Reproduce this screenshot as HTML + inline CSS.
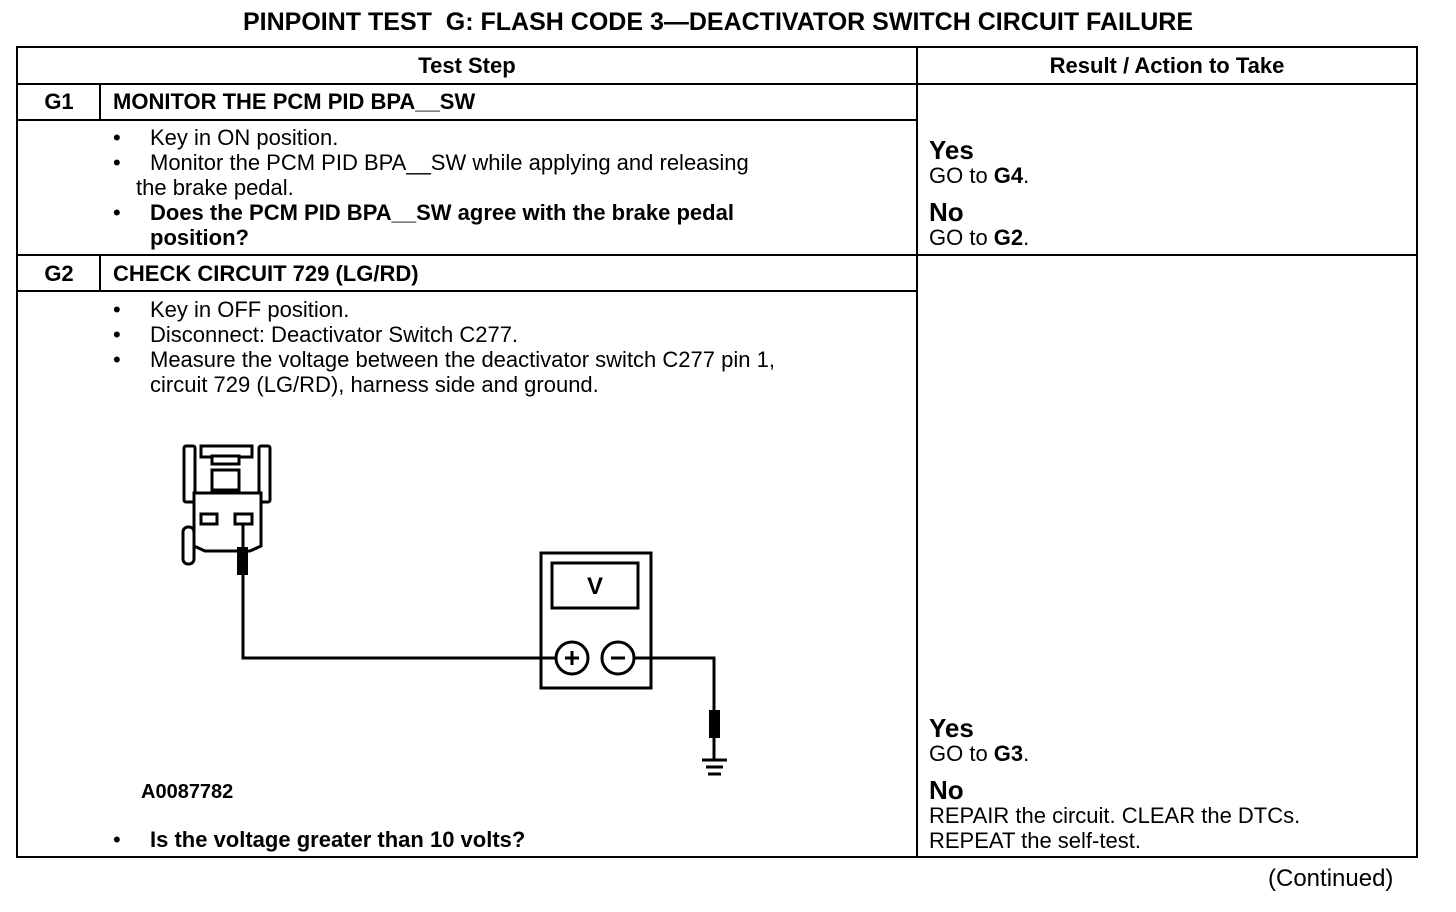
<!DOCTYPE html>
<html><head><meta charset="utf-8"><style>
html,body{margin:0;padding:0;background:#fff;}
body{width:1456px;height:912px;position:relative;overflow:hidden;font-family:"Liberation Sans",Arial,sans-serif;color:#000;}
.t{position:absolute;white-space:nowrap;font-size:22px;line-height:25px;}
.b{font-weight:bold;}
.l{position:absolute;background:#000;}
.yn{font-size:26px;font-weight:bold;line-height:26px;}
</style></head><body>
<div class="t b" style="left:0;width:1436px;text-align:center;top:8px;font-size:25px;line-height:28px;">PINPOINT TEST&nbsp; G: FLASH CODE 3—DEACTIVATOR SWITCH CIRCUIT FAILURE</div>

<!-- table lines -->
<div class="l" style="left:16px;top:46px;width:1402px;height:2px"></div>
<div class="l" style="left:16px;top:856px;width:1402px;height:2px"></div>
<div class="l" style="left:16px;top:46px;width:2px;height:812px"></div>
<div class="l" style="left:1416px;top:46px;width:2px;height:812px"></div>
<div class="l" style="left:916px;top:46px;width:2px;height:812px"></div>
<div class="l" style="left:16px;top:83px;width:1402px;height:2px"></div>
<div class="l" style="left:16px;top:119px;width:901px;height:2px"></div>
<div class="l" style="left:16px;top:254px;width:1402px;height:2px"></div>
<div class="l" style="left:16px;top:290px;width:901px;height:2px"></div>
<div class="l" style="left:99px;top:84px;width:2px;height:36px"></div>
<div class="l" style="left:99px;top:255px;width:2px;height:36px"></div>

<div class="t b" style="left:18px;width:898px;text-align:center;top:53px;">Test Step</div>
<div class="t b" style="left:918px;width:498px;text-align:center;top:53px;">Result / Action to Take</div>

<div class="t b" style="left:18px;width:82px;text-align:center;top:89px;">G1</div>
<div class="t b" style="left:113px;top:89px;">MONITOR THE PCM PID BPA__SW</div>
<div class="t" style="left:113px;top:125px;">•</div>
<div class="t" style="left:150px;top:125px;">Key in ON position.</div>
<div class="t" style="left:113px;top:150px;">•</div>
<div class="t" style="left:150px;top:150px;">Monitor the PCM PID BPA__SW while applying and releasing</div>
<div class="t" style="left:136px;top:175px;">the brake pedal.</div>
<div class="t" style="left:113px;top:200px;">•</div>
<div class="t b" style="left:150px;top:200px;">Does the PCM PID BPA__SW agree with the brake pedal</div>
<div class="t b" style="left:150px;top:225px;">position?</div>

<div class="t yn" style="left:929px;top:137px;">Yes</div>
<div class="t" style="left:929px;top:163px;">GO to <b>G4</b>.</div>
<div class="t yn" style="left:929px;top:199px;">No</div>
<div class="t" style="left:929px;top:225px;">GO to <b>G2</b>.</div>

<div class="t b" style="left:18px;width:82px;text-align:center;top:261px;">G2</div>
<div class="t b" style="left:113px;top:261px;">CHECK CIRCUIT 729 (LG/RD)</div>
<div class="t" style="left:113px;top:297px;">•</div>
<div class="t" style="left:150px;top:297px;">Key in OFF position.</div>
<div class="t" style="left:113px;top:322px;">•</div>
<div class="t" style="left:150px;top:322px;">Disconnect: Deactivator Switch C277.</div>
<div class="t" style="left:113px;top:347px;">•</div>
<div class="t" style="left:150px;top:347px;">Measure the voltage between the deactivator switch C277 pin 1,</div>
<div class="t" style="left:150px;top:372px;">circuit 729 (LG/RD), harness side and ground.</div>

<div class="t b" style="left:141px;top:780px;font-size:20px;">A0087782</div>
<div class="t" style="left:113px;top:827px;">•</div>
<div class="t b" style="left:150px;top:827px;">Is the voltage greater than 10 volts?</div>

<div class="t yn" style="left:929px;top:715px;">Yes</div>
<div class="t" style="left:929px;top:741px;">GO to <b>G3</b>.</div>
<div class="t yn" style="left:929px;top:777px;">No</div>
<div class="t" style="left:929px;top:803px;">REPAIR the circuit. CLEAR the DTCs.</div>
<div class="t" style="left:929px;top:828px;">REPEAT the self-test.</div>

<div class="t" style="left:1268px;top:865px;font-size:24px;line-height:28px;">(Continued)</div>

<svg style="position:absolute;left:0;top:0" width="1456" height="912" viewBox="0 0 1456 912">
<g fill="#fff" stroke="#000" stroke-width="3">
 <rect x="184" y="446" width="11" height="56" rx="2"/>
 <rect x="259" y="446" width="11" height="56" rx="2"/>
 <rect x="201" y="446" width="51" height="11"/>
 <rect x="212" y="456" width="27" height="8"/>
 <rect x="212" y="470" width="27" height="20"/>
 <path d="M194 493 H261 V546 L250 551 H205 L194 546 Z"/>
 <rect x="201" y="514" width="16" height="10"/>
 <rect x="235" y="514" width="17" height="10"/>
 <rect x="183" y="527" width="11" height="37" rx="5"/>
</g>
<g fill="none" stroke="#000" stroke-width="3">
 <polyline points="243,524 243,658 556,658"/>
 <rect x="541" y="553" width="110" height="135"/>
 <rect x="552" y="563" width="86" height="45"/>
 <circle cx="572" cy="658" r="16"/>
 <circle cx="618" cy="658" r="16"/>
 <polyline points="634,658 714,658 714,760"/>
 <line x1="702" y1="760" x2="727" y2="760"/>
 <line x1="706" y1="767" x2="723" y2="767"/>
 <line x1="708" y1="774" x2="721" y2="774"/>
</g>
<rect x="237" y="547" width="11" height="28" fill="#000"/>
<rect x="709" y="710" width="11" height="28" fill="#000"/>
<path d="M572 651 V665 M565 658 H579" stroke="#000" stroke-width="3"/>
<path d="M611 658 H625" stroke="#000" stroke-width="3"/>
<text x="595" y="594" font-family="Liberation Sans, sans-serif" font-weight="bold" font-size="24" text-anchor="middle">V</text>
</svg>
</body></html>
